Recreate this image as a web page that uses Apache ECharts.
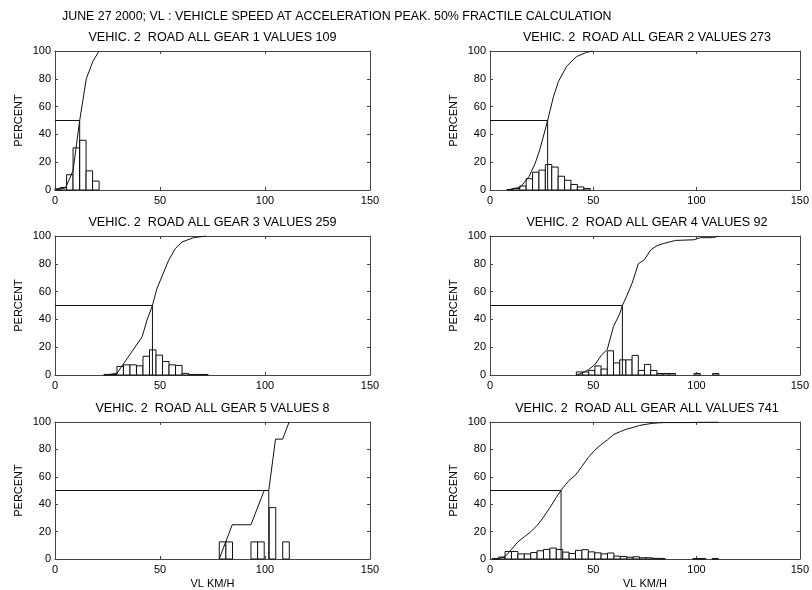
<!DOCTYPE html>
<html>
<head>
<meta charset="utf-8">
<script src="https://cdn.jsdelivr.net/npm/echarts@6/dist/echarts.min.js"></script>
<style>
  html, body { margin: 0; padding: 0; background: #fff; }
  #chart { width: 812px; height: 590px; }
</style>
</head>
<body>
<div id="chart"></div>
<script>
// ---- axis ticks ----
const speedTicks = [0, 50, 100, 150];
const percentTicks = [0, 20, 40, 60, 80, 100];

// ---- texts ----
const mainTitle = 'JUNE 27 2000; VL : VEHICLE SPEED AT ACCELERATION PEAK. 50% FRACTILE CALCULATION';
const panelTitles = [
  'VEHIC. 2  ROAD ALL GEAR 1 VALUES 109',
  'VEHIC. 2  ROAD ALL GEAR 2 VALUES 273',
  'VEHIC. 2  ROAD ALL GEAR 3 VALUES 259',
  'VEHIC. 2  ROAD ALL GEAR 4 VALUES 92',
  'VEHIC. 2  ROAD ALL GEAR 5 VALUES 8',
  'VEHIC. 2  ROAD ALL GEAR ALL VALUES 741'
];
const yAxisName = 'PERCENT';
const xAxisName = 'VL KM/H';

// ---- gear 1 ----
const gear1BinWidth = 3.1;
const gear1Centers = [0.85, 3.95, 7.05, 10.15, 13.25, 16.35, 19.45];
const gear1Percent = [0.9, 1.8, 11.0, 30.3, 35.8, 13.8, 6.4];
const gear1Cumulative = [[0.3, 0], [5.0, 1.5], [8.6, 14], [11.75, 50], [14.9, 80], [18.0, 92.5], [21.0, 100]];
const gear1Median = 11.75;

// ---- gear 2 ----
const gear2BinWidth = 3.1;
const gear2Centers = [9.75, 12.85, 15.95, 19.05, 22.15, 25.25, 28.35, 31.45, 34.55, 37.65, 40.75, 43.85, 46.95];
const gear2Percent = [0.4, 1.1, 2.9, 8.1, 12.8, 14.3, 18.3, 16.5, 9.9, 7.0, 4.0, 2.2, 1.1];
const gear2Cumulative = [[8.3, 0], [14.7, 2], [18.9, 9.6], [21.9, 19.3], [24.3, 30], [27.9, 50], [30.7, 67],
  [33.1, 78], [37.1, 89], [41.9, 96], [46.7, 99], [49.8, 100]];
const gear2Median = 27.9;

// ---- gear 3 ----
const gear3BinWidth = 3.1;
const gear3Centers = [24.85, 27.95, 31.05, 34.15, 37.25, 40.35, 43.45, 46.55, 49.65, 52.75, 55.85, 58.95, 62.05, 65.15, 68.25, 71.35];
const gear3Percent = [0.4, 0.4, 6.2, 7.3, 7.3, 6.6, 13.5, 18.1, 14.3, 9.7, 7.3, 6.9, 1.2, 0.4, 0.4, 0.4];
const gear3Cumulative = [[24.0, 0], [29.5, 1.2], [41.5, 27.5], [43.8, 39.5], [46.4, 50], [48.5, 62], [51.5, 73],
  [54.1, 82.5], [57.3, 91], [60.5, 95.7], [66.0, 98.8], [71.9, 100]];
const gear3Median = 46.4;

// ---- gear 4 ----
const gear4BinWidth = 3.0;
const gear4Centers = [43.3, 46.3, 49.3, 52.3, 55.3, 58.3, 61.3, 64.3, 67.3, 70.3, 73.3, 76.3, 79.3, 82.3, 85.3, 88.3, 100.3, 109.3];
const gear4Percent = [2.2, 2.2, 3.3, 6.5, 4.3, 17.4, 8.7, 10.9, 10.9, 14.1, 3.3, 7.6, 3.3, 1.1, 1.1, 1.1, 1.1, 1.1];
const gear4Cumulative = [[41.8, 0], [44.8, 1.5], [47.8, 4], [50.8, 7.5], [53.8, 14], [56.8, 18.5], [59.8, 35],
  [62.8, 44], [64.1, 50], [65.8, 55.5], [68.8, 66], [71.8, 80], [74.8, 83], [77.8, 90], [80.8, 93],
  [83.8, 94.5], [86.8, 95.7], [89.8, 96.8], [98.8, 97.3], [101.8, 98.8], [107.8, 98.8], [110.8, 100]];
const gear4Median = 64.1;

// ---- gear 5 ----
const gear5BinWidth = 3.15;
const gear5Centers = [79.8, 82.95, 94.9, 98.05, 103.55, 110.0];
const gear5Percent = [12.5, 12.5, 12.5, 12.5, 37.5, 12.5];
const gear5Cumulative = [[78.2, 0], [84.4, 25], [93.3, 25], [99.6, 50], [101.8, 50], [105.0, 87.5], [108.4, 87.5], [111.5, 100]];
const gear5Median = 101.8;

// ---- all gears ----
const allBinWidth = 3.1;
const allCenters = [2.65, 5.75, 8.85, 11.95, 15.05, 18.15, 21.25, 24.35, 27.45, 30.55, 33.65, 36.75, 39.85, 42.95,
  46.05, 49.15, 52.25, 55.35, 58.45, 61.55, 64.65, 67.75, 70.85, 73.95, 77.05, 80.15, 83.25, 99.75, 102.85, 109.05];
const allPercent = [0.3, 1.4, 5.5, 5.5, 3.7, 3.7, 4.7, 6.0, 7.0, 8.0, 7.0, 5.0, 4.0, 6.3,
  6.8, 5.2, 4.5, 3.7, 4.4, 2.1, 1.8, 1.3, 1.6, 0.9, 0.9, 0.5, 0.4, 0.3, 0.4, 0.3];
const allCumulative = [[1.1, 0], [4.2, 0.3], [7.3, 1.7], [10.4, 7.0], [13.5, 12.5], [16.6, 16.2], [19.7, 19.8],
  [22.8, 24.5], [25.9, 30.5], [29.0, 37.5], [32.1, 45.0], [35.2, 51.8], [38.3, 57.3], [41.4, 61.3],
  [44.5, 67.6], [47.6, 74.2], [50.7, 79.4], [53.8, 83.5], [56.9, 87.0], [60.0, 91.0], [63.1, 93.0],
  [66.2, 94.8], [69.3, 96.0], [72.4, 97.5], [75.5, 98.3], [78.6, 99.0], [81.7, 99.4], [84.8, 99.6],
  [98.2, 99.6], [101.3, 99.9], [110.6, 100]];
const allMedian = 34.4;

const panels = [
  { centers: gear1Centers, percent: gear1Percent, binWidth: gear1BinWidth, cumulative: gear1Cumulative, median: gear1Median },
  { centers: gear2Centers, percent: gear2Percent, binWidth: gear2BinWidth, cumulative: gear2Cumulative, median: gear2Median },
  { centers: gear3Centers, percent: gear3Percent, binWidth: gear3BinWidth, cumulative: gear3Cumulative, median: gear3Median },
  { centers: gear4Centers, percent: gear4Percent, binWidth: gear4BinWidth, cumulative: gear4Cumulative, median: gear4Median },
  { centers: gear5Centers, percent: gear5Percent, binWidth: gear5BinWidth, cumulative: gear5Cumulative, median: gear5Median },
  { centers: allCenters, percent: allPercent, binWidth: allBinWidth, cumulative: allCumulative, median: allMedian }
];

// ---- layout & style ----
const FONT = '"Liberation Sans", Arial, Helvetica, sans-serif';
const ink = '#111';
const frame = '#444';
const colLeft = [55, 490];
const colWidth = [315, 314];
const rowTop = [51, 236, 422];
const plotHeight = 139;

const grids = [], xAxes = [], yAxes = [], series = [], graphics = [];

graphics.push({
  type: 'text', x: 62, y: 17,
  style: { text: mainTitle, font: '12.4px ' + FONT, fill: '#000', textAlign: 'left', textVerticalAlign: 'middle' }
});

panels.forEach((p, i) => {
  const col = i % 2, row = Math.floor(i / 2);
  const left = colLeft[col], top = rowTop[row], width = colWidth[col];
  grids.push({ left: left, top: top, width: width, height: plotHeight, show: false });

  graphics.push({
    type: 'text', x: left + width / 2, y: top - 13,
    style: { text: panelTitles[i], font: '12.6px ' + FONT, fill: '#000', textAlign: 'center', textVerticalAlign: 'middle' }
  });

  const tickStyle = { inside: true, length: 3, lineStyle: { color: frame, width: 1 } };
  const lineStyle = { show: true, onZero: false, lineStyle: { color: frame, width: 1 } };
  const xRange = { type: 'value', min: speedTicks[0], max: speedTicks[speedTicks.length - 1], interval: speedTicks[1] - speedTicks[0] };
  const yRange = { type: 'value', min: percentTicks[0], max: percentTicks[percentTicks.length - 1], interval: percentTicks[1] - percentTicks[0] };

  xAxes.push(Object.assign({}, xRange, {
    gridIndex: i, position: 'bottom',
    axisLine: lineStyle, axisTick: tickStyle, splitLine: { show: false },
    axisLabel: { fontSize: 11, fontFamily: FONT, color: '#000', margin: 5 },
    name: row === 2 ? xAxisName : '', nameLocation: 'middle', nameGap: 19,
    nameTextStyle: { fontSize: 11, fontFamily: FONT, color: '#000' }
  }));
  xAxes.push(Object.assign({}, xRange, {
    gridIndex: i, position: 'top',
    axisLine: lineStyle, axisTick: tickStyle, splitLine: { show: false }, axisLabel: { show: false }
  }));
  yAxes.push(Object.assign({}, yRange, {
    gridIndex: i, position: 'left',
    axisLine: lineStyle, axisTick: tickStyle, splitLine: { show: false },
    axisLabel: { fontSize: 11, fontFamily: FONT, color: '#000', margin: 4 },
    name: yAxisName, nameLocation: 'middle', nameGap: 31, nameRotate: 90,
    nameTextStyle: { fontSize: 11, fontFamily: FONT, color: '#000' }
  }));
  yAxes.push(Object.assign({}, yRange, {
    gridIndex: i, position: 'right',
    axisLine: lineStyle, axisTick: tickStyle, splitLine: { show: false }, axisLabel: { show: false }
  }));

  const binWidth = p.binWidth;
  series.push({
    type: 'custom',
    xAxisIndex: 2 * i, yAxisIndex: 2 * i,
    silent: true, z: 2,
    data: p.centers.map((c, k) => [c, p.percent[k]]),
    renderItem(params, api) {
      const c = api.value(0), v = api.value(1);
      const a = api.coord([c - binWidth / 2, v]);
      const b = api.coord([c + binWidth / 2, 0]);
      const cs = params.coordSys;
      const x0 = Math.max(a[0], cs.x), x1 = Math.min(b[0], cs.x + cs.width);
      return {
        type: 'rect',
        shape: { x: x0, y: a[1], width: x1 - x0, height: b[1] - a[1] },
        style: { fill: '#fff', stroke: ink, lineWidth: 1 }
      };
    }
  });

  series.push({
    type: 'line', xAxisIndex: 2 * i, yAxisIndex: 2 * i,
    silent: true, z: 3, symbol: 'none', animation: false,
    data: [[0, 50], [p.median, 50], [p.median, 0]],
    lineStyle: { color: ink, width: 1 }
  });

  series.push({
    type: 'line', xAxisIndex: 2 * i, yAxisIndex: 2 * i,
    silent: true, z: 4, symbol: 'none', animation: false,
    data: p.cumulative,
    lineStyle: { color: ink, width: 1 }
  });
});

const chart = echarts.init(document.getElementById('chart'), null, { renderer: 'canvas' });
chart.setOption({
  backgroundColor: '#fff',
  animation: false,
  grid: grids,
  xAxis: xAxes,
  yAxis: yAxes,
  series: series,
  graphic: graphics
});
</script>
</body>
</html>
